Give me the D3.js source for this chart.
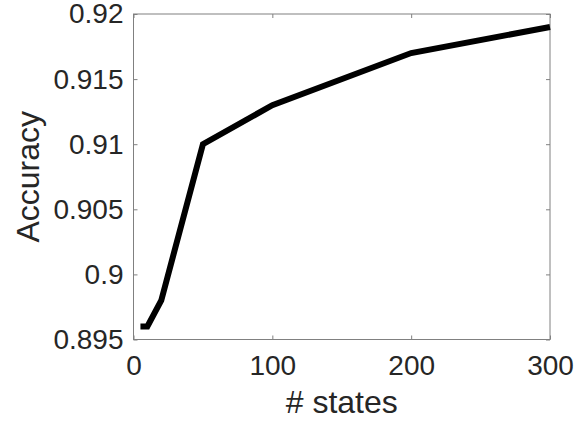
<!DOCTYPE html>
<html><head><meta charset="utf-8">
<script src="https://cdn.jsdelivr.net/npm/d3@7"></script>
<style>body{margin:0;background:#fff}svg{display:block}text{font-family:"Liberation Sans",Arial,Helvetica,sans-serif;fill:#262626}</style>
</head><body><svg id="c" width="584" height="421"></svg>
<script>
const states = [5, 10, 20, 50, 100, 200, 300];
const accuracy = [0.896, 0.896, 0.898, 0.910, 0.913, 0.917, 0.919];
const xTicks = [0, 100, 200, 300];
const yTicks = [0.895, 0.9, 0.905, 0.91, 0.915, 0.92];
const yTickLabels = ["0.895", "0.9", "0.905", "0.91", "0.915", "0.92"];
const xLabel = "# states", yLabel = "Accuracy";

const L = 133.5, R = 550, T = 14, B = 339.5;
const svg = d3.select("#c");
const x = d3.scaleLinear().domain([0, 300]).range([L, R]);
const y = d3.scaleLinear().domain([0.895, 0.92]).range([B, T]);
const axisColor = "#808080";

// box
svg.append("rect").attr("x", L).attr("y", T).attr("width", R - L).attr("height", B - T)
  .attr("fill", "none").attr("stroke", axisColor).attr("stroke-width", 1);

// bottom axis
const gx = svg.append("g").attr("transform", `translate(0,${B})`)
  .call(d3.axisBottom(x).tickValues(xTicks).tickSize(-4).tickPadding(16).tickFormat(d3.format("d")));
const gy = svg.append("g").attr("transform", `translate(${L},0)`)
  .call(d3.axisLeft(y).tickValues(yTicks).tickSize(-4).tickPadding(10).tickFormat((d, i) => yTickLabels[i]));
// top/right ticks
svg.append("g").attr("transform", `translate(0,${T})`)
  .call(d3.axisTop(x).tickValues(xTicks).tickSize(-4).tickFormat(""));
svg.append("g").attr("transform", `translate(${R},0)`)
  .call(d3.axisRight(y).tickValues(yTicks).tickSize(-4).tickFormat(""));

svg.selectAll(".domain").remove();
svg.selectAll(".tick line").attr("stroke", axisColor);
svg.selectAll(".tick text").style("font-size", "28px").attr("fill", "#262626");
gx.selectAll(".tick text").attr("dy", "0.71em");

// line
svg.append("path").datum(states.map((s, i) => [s, accuracy[i]]))
  .attr("d", d3.line().x(d => x(d[0])).y(d => y(d[1])))
  .attr("fill", "none").attr("stroke", "#000").attr("stroke-width", 6)
  .attr("stroke-linejoin", "miter").attr("stroke-linecap", "butt");

// labels
svg.append("text").attr("x", (L + R) / 2).attr("y", 413).attr("text-anchor", "middle")
  .style("font-size", "32px").text(xLabel);
svg.append("text").attr("transform", `translate(39,${(T + B) / 2}) rotate(-90)`)
  .attr("text-anchor", "middle").style("font-size", "32px").text(yLabel);
</script></body></html>
